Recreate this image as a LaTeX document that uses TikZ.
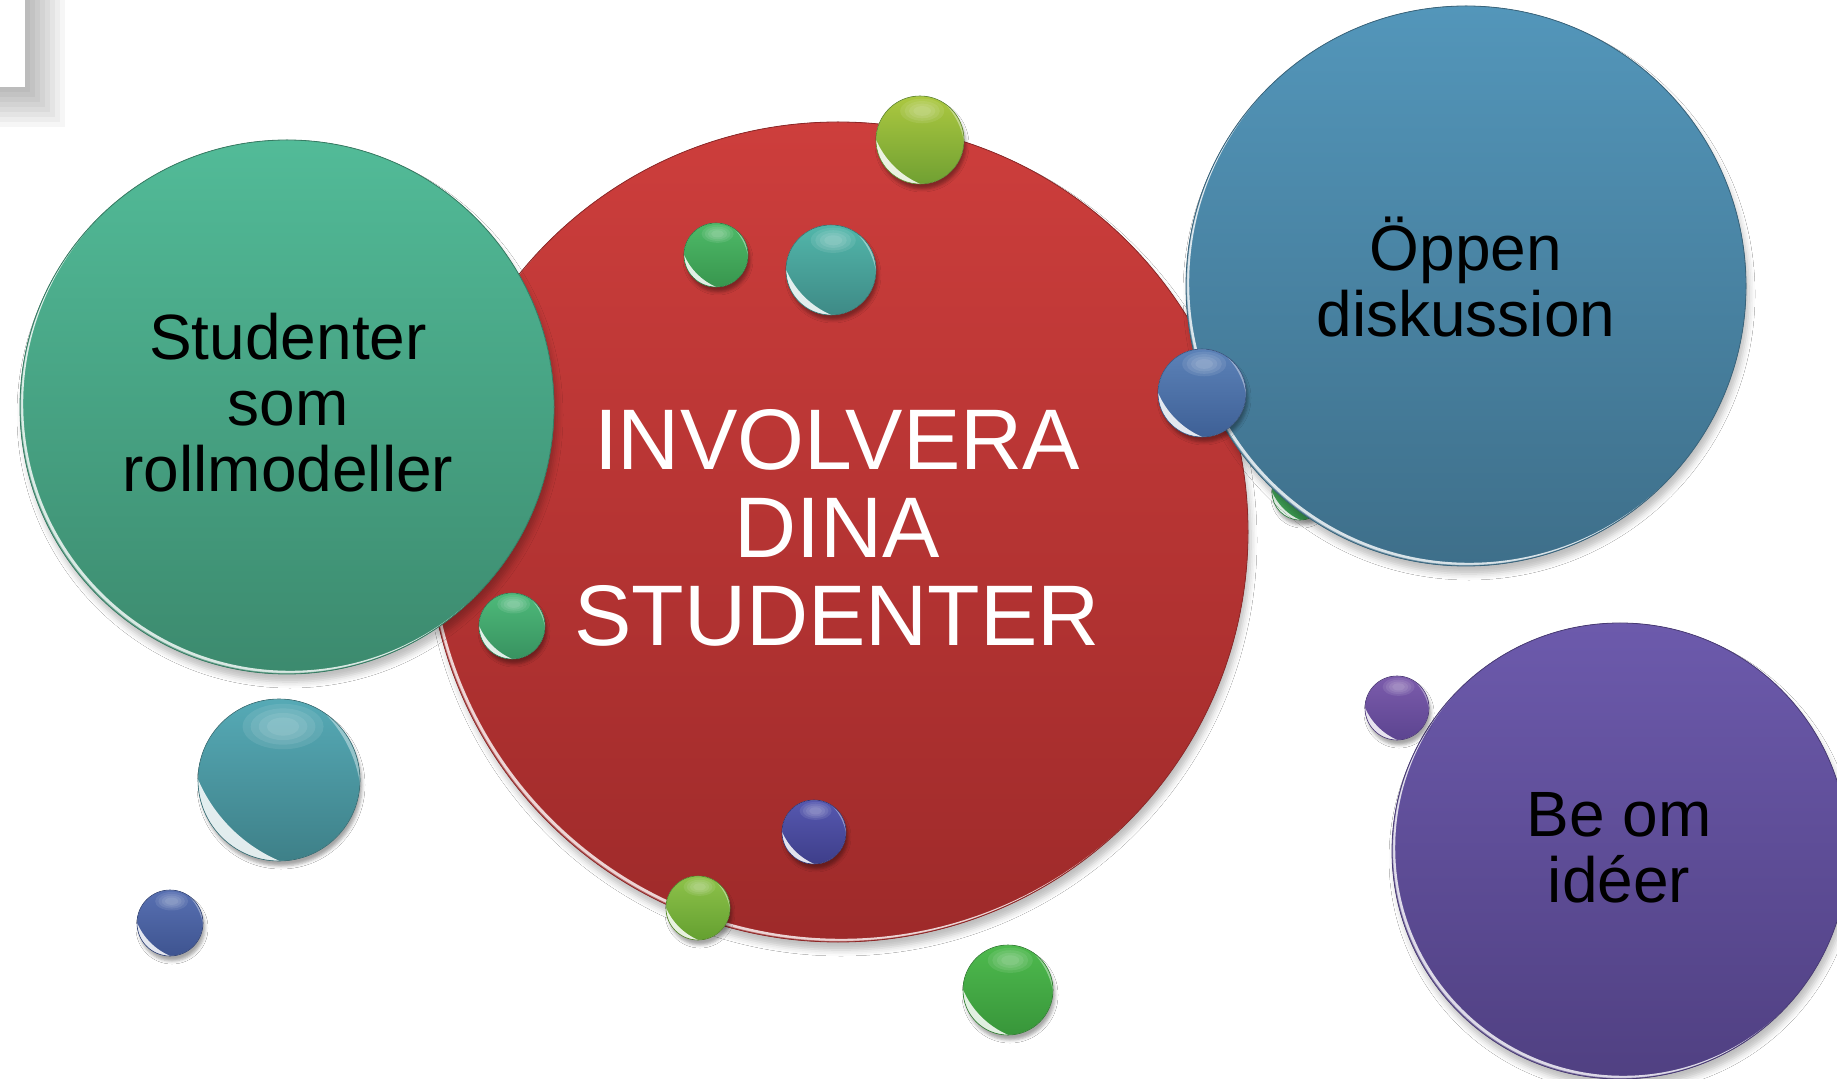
\documentclass[tikz,border=0pt]{standalone}
\usepackage{fontspec}
\setmainfont{Liberation Sans}
\usetikzlibrary{shadows.blur,calc}
\definecolor{redT}{RGB}{205,62,60}
\definecolor{redB}{RGB}{158,42,42}
\definecolor{grnT}{RGB}{82,187,152}
\definecolor{grnB}{RGB}{60,138,110}
\definecolor{bluT}{RGB}{83,150,186}
\definecolor{bluB}{RGB}{62,111,138}
\definecolor{purT}{RGB}{108,90,172}
\definecolor{purB}{RGB}{80,64,130}
\definecolor{ygT}{RGB}{172,200,64}
\definecolor{ygB}{RGB}{112,160,50}
\definecolor{gT}{RGB}{78,186,104}
\definecolor{gB}{RGB}{56,150,78}
\definecolor{tlT}{RGB}{82,182,170}
\definecolor{tlB}{RGB}{62,138,134}
\definecolor{tl2T}{RGB}{86,170,182}
\definecolor{tl2B}{RGB}{62,128,136}
\definecolor{bT}{RGB}{92,130,184}
\definecolor{bB}{RGB}{62,96,150}
\definecolor{b2T}{RGB}{88,112,178}
\definecolor{b2B}{RGB}{62,84,144}
\definecolor{inT}{RGB}{86,88,176}
\definecolor{inB}{RGB}{62,62,138}
\definecolor{lgT}{RGB}{142,194,74}
\definecolor{lgB}{RGB}{100,160,48}
\definecolor{emT}{RGB}{78,186,122}
\definecolor{emB}{RGB}{56,146,96}
\definecolor{g2T}{RGB}{78,186,78}
\definecolor{g2B}{RGB}{56,150,58}
\definecolor{puT}{RGB}{124,92,172}
\definecolor{puB}{RGB}{92,68,144}
\tikzset{
  smalltext/.style={align=center, text=black, inner sep=0pt, font=\fontsize{32}{33}\selectfont},
  maintext/.style={align=center, text=white, inner sep=0pt, font=\fontsize{43}{44}\selectfont},
  bigshadow/.style={blur shadow={shadow xshift=1.5pt,shadow yshift=-4pt,shadow blur radius=3pt,shadow opacity=25}},
  ballshadow/.style={blur shadow={shadow xshift=1pt,shadow yshift=-2.5pt,shadow blur radius=1.5pt,shadow opacity=35}}
}
\newcommand\bigbubble[6]{%
  \coordinate (#1) at (#2,#3);
  \fill[bigshadow, top color=#5, bottom color=#6] (#1) circle[radius=#4];
  \begin{scope}
    \clip (#1) circle[radius=#4];
    \fill[white, opacity=0.8, even odd rule] (#1) circle[radius=#4] ($(#1)+(3.2,-3.2)$) circle[radius=#4];
    \fill[#6, opacity=0.6, even odd rule] (#1) circle[radius=#4] ($(#1)+(1,-1)$) circle[radius=#4];
  \end{scope}
  \draw[#6!90!black, line width=0.4pt] (#1) circle[radius=#4];
}
\newcommand\ball[6]{%
  \coordinate (#1) at (#2,#3);
  \fill[ballshadow, top color=#5, bottom color=#6] (#1) circle[radius=#4];
  \begin{scope}
    \clip (#1) circle[radius=#4];
    \foreach \k in {1.0,0.8,0.6,0.4} {
      \fill[white, opacity=0.09] ($(#1)+(0.05*#4,-0.66*#4)$) ellipse[x radius=0.5*\k*#4, y radius=0.28*\k*#4];
    }
    \fill[white, opacity=0.85, even odd rule] (#1) circle[radius=#4] ($(#1)+(0.75*#4,-0.75*#4)$) circle[radius=1.9*#4];
    \fill[white, opacity=0.4, even odd rule] (#1) circle[radius=#4] ($(#1)+(-0.6*#4,0.3*#4)$) circle[radius=1.62*#4];
  \end{scope}
  \draw[#6!85!black, line width=0.3pt] (#1) circle[radius=#4];
}
\begin{document}
\begin{tikzpicture}[x=0.5pt,y=-0.5pt]
\useasboundingbox (0,0) rectangle (1837,1079);
\fill[white] (0,0) rectangle (1837,1079);
% corner shadow top-left
\foreach \i in {1,...,8} {\fill[black, opacity=0.035] (-20,-20) rectangle ({25+5*\i},{87+5*\i});}
\fill[white] (-20,-20) rectangle (25,87);
% central circle
\bigbubble{red}{838}{532}{410}{redT}{redB}
\ball{b1}{920}{140}{44}{ygT}{ygB}
\ball{b2}{716}{255}{32}{gT}{gB}
\ball{b3}{831}{270}{45}{tlT}{tlB}
\ball{b6}{512}{626}{33}{emT}{emB}
\ball{b9}{814}{832}{32}{inT}{inB}
\ball{b10}{698}{908}{32}{lgT}{lgB}
% left circle
\bigbubble{green}{287}{407}{267}{grnT}{grnB}
% right top
\ball{b5}{1300}{492}{28}{gT}{gB}
\bigbubble{blue}{1466}{286}{280}{bluT}{bluB}
\ball{b4}{1202}{393}{44}{bT}{bB}
% right bottom
\bigbubble{purple}{1620}{851}{228}{purT}{purB}
\ball{b12}{1397}{708}{32}{puT}{puB}
\ball{b7}{279}{780}{81}{tl2T}{tl2B}
\ball{b8}{170}{923}{33}{b2T}{b2B}
\ball{b11}{1008}{990}{45}{g2T}{g2B}
% texts
\node[maintext] (tmain) at (837,528) {INVOLVERA\\DINA\\STUDENTER};
\node[smalltext] (tgreen) at (288,403) {Studenter\\som\\rollmodeller};
\node[smalltext] (tblue) at (1466,277) {Öppen\\diskussion};
\node[smalltext] (tpurple) at (1619,848) {Be om\\idéer};
\end{tikzpicture}
\end{document}
